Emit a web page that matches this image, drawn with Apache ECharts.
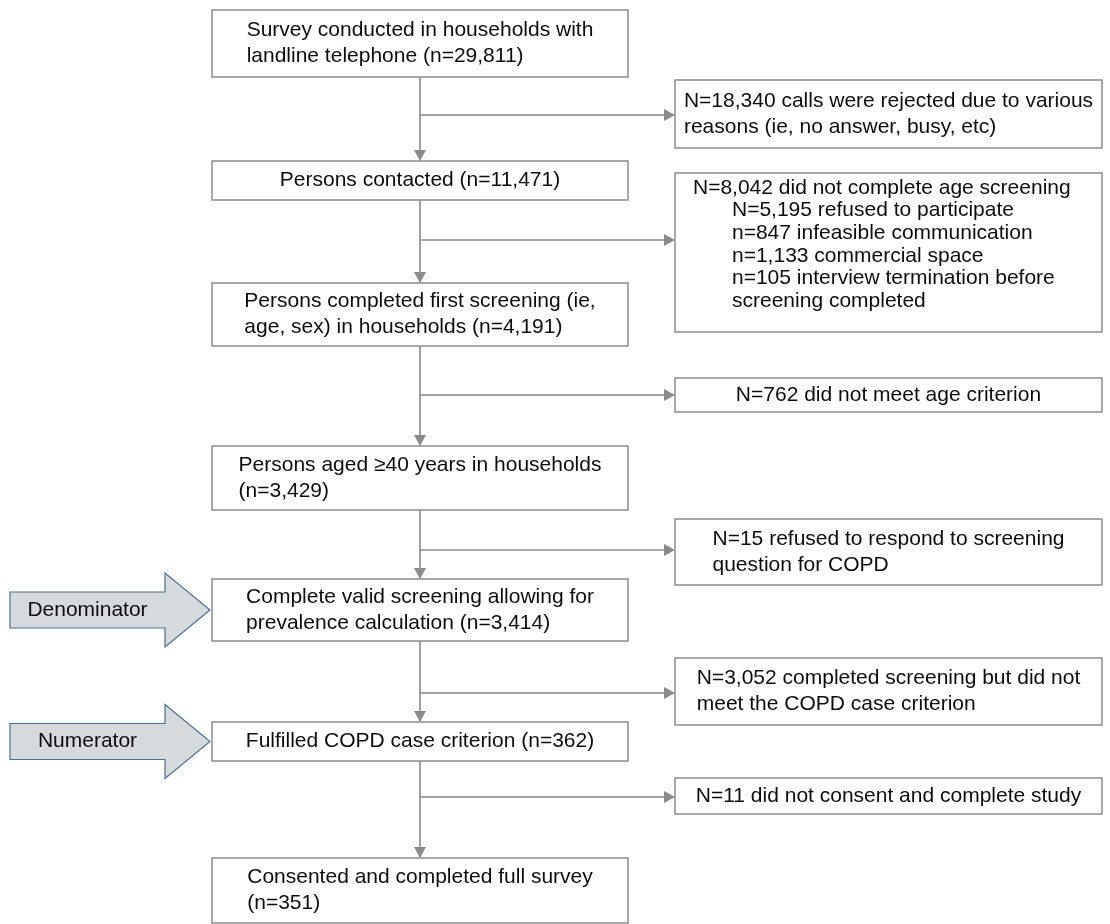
<!DOCTYPE html>
<html><head><meta charset="utf-8">
<script src="https://cdn.jsdelivr.net/npm/echarts@6/dist/echarts.min.js"></script>
<style>html,body{margin:0;padding:0;background:#fff}#c{width:1110px;height:924px}</style>
</head><body><div id="c"></div>
<script>
// ---------------- data ----------------
const mainSteps = [
  ["Survey conducted in households with", "landline telephone (n={n})"],
  ["Persons contacted (n={n})"],
  ["Persons completed first screening (ie,", "age, sex) in households (n={n})"],
  ["Persons aged \u226540 years in households", "(n={n})"],
  ["Complete valid screening allowing for", "prevalence calculation (n={n})"],
  ["Fulfilled COPD case criterion (n={n})"],
  ["Consented and completed full survey", "(n={n})"]
];
const mainCounts = [29811, 11471, 4191, 3429, 3414, 362, 351];

const exclusionSteps = [
  ["N={n} calls were rejected due to various", "reasons (ie, no answer, busy, etc)"],
  ["N={n} did not complete age screening"],
  ["N={n} did not meet age criterion"],
  ["N={n} refused to respond to screening", "question for COPD"],
  ["N={n} completed screening but did not", "meet the COPD case criterion"],
  ["N={n} did not consent and complete study"]
];
const exclusionCounts = [18340, 8042, 762, 15, 3052, 11];

// sub-reasons of exclusion step 2 (age screening not completed)
const reasonSteps = [
  ["N={n} refused to participate"],
  ["n={n} infeasible communication"],
  ["n={n} commercial space"],
  ["n={n} interview termination before", "screening completed"]
];
const reasonCounts = [5195, 847, 1133, 105];
const reasonParent = 1;

const markerLabels = ["Denominator", "Numerator"];
const markerTargets = [4, 5];

// ---------------- layout (positions, sizes, styles) ----------------
const W = 1110, H = 924;
const MAIN_X = [212, 628];
const mainBoxY = [[10, 77], [161, 200], [283, 346], [446, 510], [579, 641], [722, 761], [858, 923]];
const SIDE_X = [675, 1102];
const sideBoxY = [[80, 148], [173, 332], [378, 412], [519, 585], [658, 725], [778, 814]];
const branchY = [115, 240, 395, 550, 693, 797];
const LINE_H = 26, SUB_LINE_H = 22.6, INDENT = 39, SUB_PAD_X = 18, SUB_PAD_TOP = 15;
const FONT_SIZE = 21, FONT_FAMILY = "'Liberation Sans', Arial, sans-serif";
const TEXT_COLOR = '#0d0d0d';
const BOX_STROKE = '#8c8c8c', LINK_COLOR = '#8a8a8a';
const ARROW_LEN = 11, ARROW_HALF = 6;
const BIG = {x0: 10, neck: 165, tip: 210, body: 18, head: 37, fill: '#d6dadc', stroke: '#4f7091'};

const fmt = n => n.toLocaleString('en-US');
const fill = (lines, n) => lines.map(l => l.replace('{n}', fmt(n)));
const ctx = document.createElement('canvas').getContext('2d');
ctx.font = FONT_SIZE + 'px ' + FONT_FAMILY;
const tw = s => ctx.measureText(s).width;

function textEl(str, x, y, align) {
  return {type: 'text', style: {text: str, x: x, y: y, fill: TEXT_COLOR, fontSize: FONT_SIZE,
    fontFamily: FONT_FAMILY, align: align || 'left', verticalAlign: 'middle'}};
}
function boxEl(p0, p1) {
  return {type: 'rect', shape: {x: p0[0], y: p0[1], width: p1[0] - p0[0], height: p1[1] - p0[1]},
    style: {fill: '#fff', stroke: BOX_STROKE, lineWidth: 1.5}};
}
// lines: [{t, indent}] -> left-aligned block centered in box
function blockEls(items, p0, p1, lh) {
  const widths = items.map(it => it.indent + tw(it.t));
  const bw = Math.max.apply(null, widths);
  const left = (p0[0] + p1[0]) / 2 - bw / 2;
  const cy = (p0[1] + p1[1]) / 2;
  const n = items.length;
  return items.map((it, k) => textEl(it.t, left + it.indent, cy + (k - (n - 1) / 2) * lh));
}
// top-left anchored block
function listEls(items, p0, lh) {
  return items.map((it, k) => textEl(it.t, p0[0] + SUB_PAD_X + it.indent, p0[1] + SUB_PAD_TOP + k * lh));
}

function renderMain(params, api) {
  const i = api.value(0);
  const p0 = api.coord([MAIN_X[0], mainBoxY[i][0]]);
  const p1 = api.coord([MAIN_X[1], mainBoxY[i][1]]);
  const lines = fill(mainSteps[i], mainCounts[i]).map(t => ({t: t, indent: 0}));
  return {type: 'group', children: [boxEl(p0, p1)].concat(blockEls(lines, p0, p1, LINE_H))};
}

function renderSide(params, api) {
  const i = api.value(0);
  const p0 = api.coord([SIDE_X[0], sideBoxY[i][0]]);
  const p1 = api.coord([SIDE_X[1], sideBoxY[i][1]]);
  let items = fill(exclusionSteps[i], exclusionCounts[i]).map(t => ({t: t, indent: 0}));
  if (i === reasonParent) {
    reasonSteps.forEach((r, k) => {
      fill(r, reasonCounts[k]).forEach(t => items.push({t: t, indent: INDENT}));
    });
    return {type: 'group', children: [boxEl(p0, p1)].concat(listEls(items, p0, SUB_LINE_H))};
  }
  return {type: 'group', children: [boxEl(p0, p1)].concat(blockEls(items, p0, p1, LINE_H))};
}

function renderLinks(params, api) {
  const i = api.value(0);
  const cx = (MAIN_X[0] + MAIN_X[1]) / 2;
  const a = api.coord([cx, mainBoxY[i][1]]);
  const b = api.coord([cx, mainBoxY[i + 1][0]]);
  const s = api.coord([cx, branchY[i]]);
  const e = api.coord([SIDE_X[0], branchY[i]]);
  const ls = {stroke: LINK_COLOR, lineWidth: 1.6};
  return {type: 'group', children: [
    {type: 'line', shape: {x1: a[0], y1: a[1], x2: b[0], y2: b[1] - ARROW_LEN + 1}, style: ls},
    {type: 'polygon', shape: {points: [[b[0], b[1]], [b[0] - ARROW_HALF, b[1] - ARROW_LEN], [b[0] + ARROW_HALF, b[1] - ARROW_LEN]]},
      style: {fill: LINK_COLOR}},
    {type: 'line', shape: {x1: s[0], y1: s[1], x2: e[0] - ARROW_LEN + 1, y2: e[1]}, style: ls},
    {type: 'polygon', shape: {points: [[e[0], e[1]], [e[0] - ARROW_LEN, e[1] - ARROW_HALF], [e[0] - ARROW_LEN, e[1] + ARROW_HALF]]},
      style: {fill: LINK_COLOR}}
  ]};
}

function renderMarkers(params, api) {
  const i = api.value(0);
  const box = mainBoxY[markerTargets[i]];
  const cyv = (box[0] + box[1]) / 2;
  const P = (x, dy) => api.coord([x, cyv + dy]);
  const pts = [P(BIG.x0, -BIG.body), P(BIG.neck, -BIG.body), P(BIG.neck, -BIG.head), P(BIG.tip, 0),
               P(BIG.neck, BIG.head), P(BIG.neck, BIG.body), P(BIG.x0, BIG.body)];
  const c = P((BIG.x0 + BIG.neck) / 2, 0);
  return {type: 'group', children: [
    {type: 'polygon', shape: {points: pts}, style: {fill: BIG.fill, stroke: BIG.stroke, lineWidth: 1.2}},
    textEl(markerLabels[i], c[0], c[1], 'center')
  ]};
}

const chart = echarts.init(document.getElementById('c'), null, {renderer: 'canvas'});
chart.setOption({
  animation: false,
  backgroundColor: '#fff',
  grid: {left: 0, right: 0, top: 0, bottom: 0},
  xAxis: {type: 'value', min: 0, max: W, show: false},
  yAxis: {type: 'value', min: 0, max: H, inverse: true, show: false},
  series: [
    {type: 'custom', renderItem: renderLinks, clip: false, z: 1,
     data: mainSteps.slice(0, -1).map((_, i) => [i, 0])},
    {type: 'custom', renderItem: renderMain, clip: false, z: 2,
     data: mainSteps.map((_, i) => [i, 0])},
    {type: 'custom', renderItem: renderSide, clip: false, z: 2,
     data: exclusionSteps.map((_, i) => [i, 0])},
    {type: 'custom', renderItem: renderMarkers, clip: false, z: 2,
     data: markerLabels.map((_, i) => [i, 0])}
  ]
});
</script></body></html>
